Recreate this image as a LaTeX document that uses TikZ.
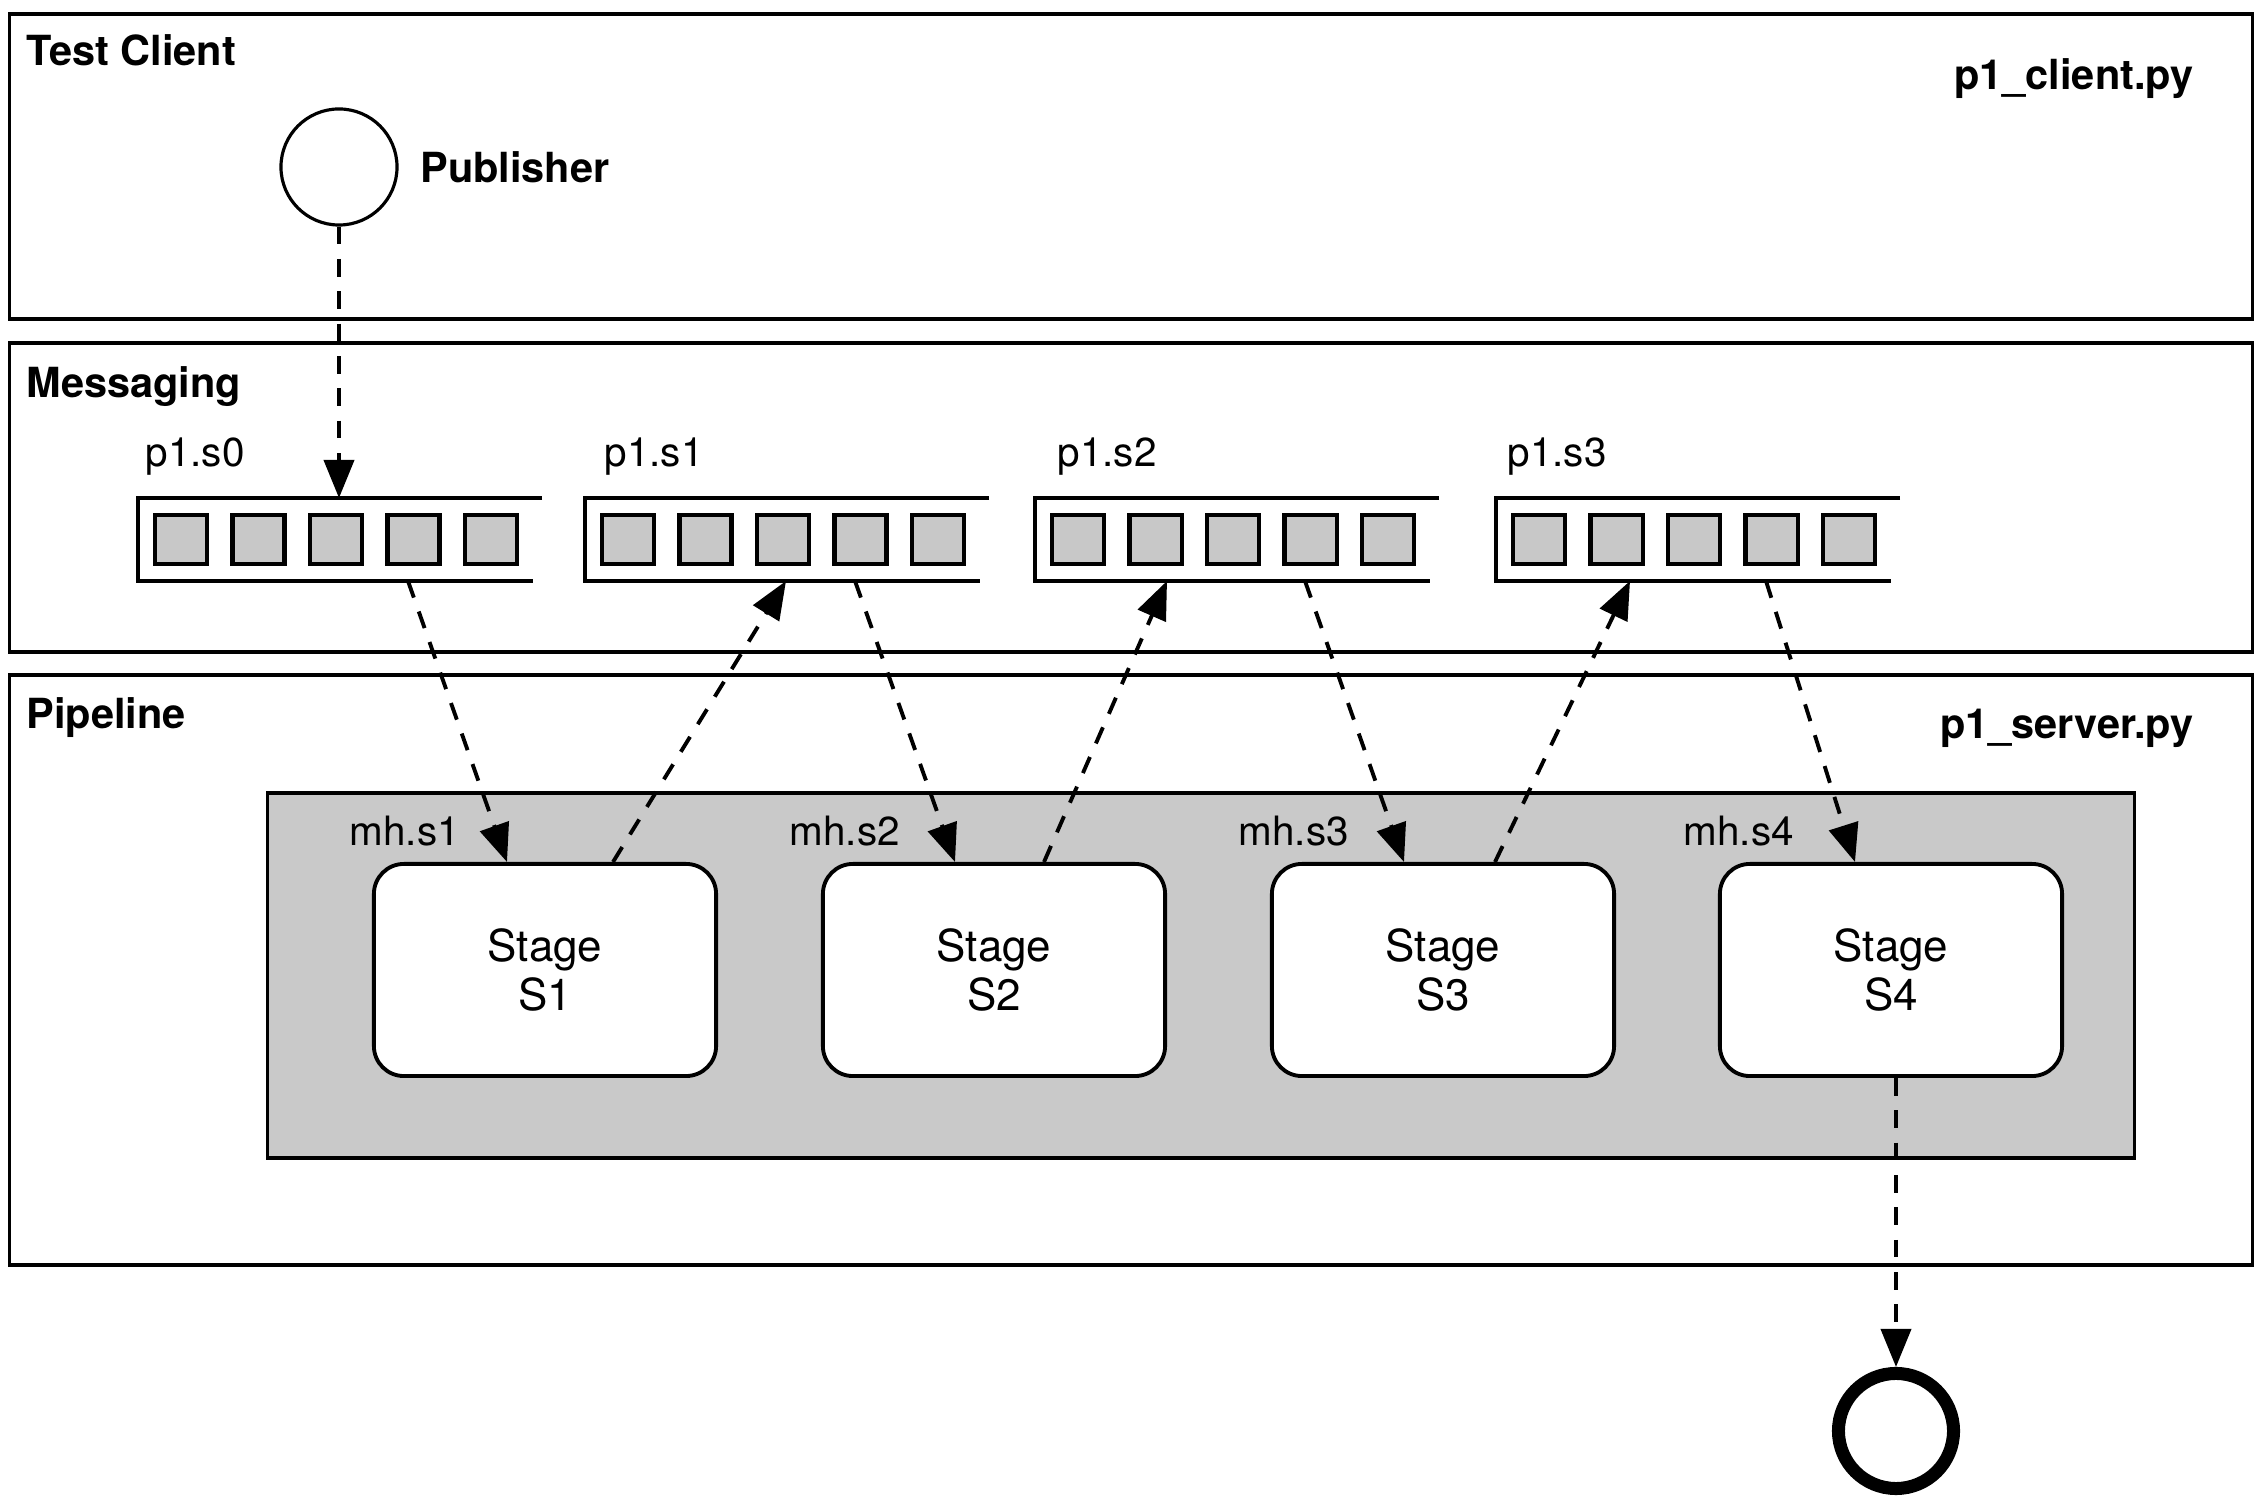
\documentclass[tikz,border=0pt]{standalone}
\usepackage{fontspec}
\setmainfont{TeX Gyre Heros}
\usepackage{tikz}
\usetikzlibrary{arrows.meta,positioning,calc}
\definecolor{cslot}{HTML}{C8C8C8}
\definecolor{cpipe}{HTML}{C9C9C9}
\tikzset{
  panel/.style={draw, line width=1pt, inner sep=0pt},
  ptitle/.style={font=\fontsize{11.8}{14}\selectfont\bfseries, inner sep=0pt},
  plabel/.style={font=\fontsize{11.5}{14}\selectfont, inner sep=0pt},
  slotbox/.style={draw, line width=1.15pt, fill=cslot, minimum width=0.52cm, minimum height=0.49cm, inner sep=0pt},
  qline/.style={line width=1.25pt, line join=miter},
  stagebox/.style={draw, line width=1.1pt, fill=white, rounded corners=0.3cm, minimum width=3.42cm, minimum height=2.12cm, align=center, font=\fontsize{12.5}{14.2}\selectfont},
  pubn/.style={circle, draw, line width=0.9pt, fill=white, minimum size=1.16cm, inner sep=0pt},
  endn/.style={circle, draw, line width=3.7pt, fill=white, minimum size=1.15cm, inner sep=0pt},
  flow/.style={-{Triangle[length=0.38cm, width=0.3cm]}, line width=1.1pt, dash pattern=on 5pt off 4.2pt},
}
\begin{document}
\begin{tikzpicture}[x=0.01cm, y=-0.01cm]
\useasboundingbox (0,0) rectangle (2262,1504);
% the three layers
\node[panel, minimum width=22.42cm, minimum height=3.05cm] (client) at (1131,166.5) {};
\node[panel, minimum width=22.42cm, minimum height=3.09cm] (msg) at (1131,497.5) {};
\node[panel, minimum width=22.42cm, minimum height=5.90cm] (pipe) at (1131,970) {};
\node[panel, fill=cpipe, minimum width=18.66cm, minimum height=3.65cm] (stagearea) at (1201,975.5) {};
\node[ptitle, anchor=base west] (tclient) at (26,66) {Test Client};
\node[ptitle, anchor=base west] (tmsg) at (26,398) {Messaging};
\node[ptitle, anchor=base west] (tpipe) at (26,729) {Pipeline};
\node[ptitle, anchor=base east] (fclient) at (2194,90) {p1\_client.py};
\node[ptitle, anchor=base east] (fserver) at (2194,739) {p1\_server.py};
% publisher
\node[pubn] (pub) at (339,167) {};
\node[ptitle, right=0.21cm of pub] (publbl) {Publisher};
% queues
\foreach \i/\x/\lx in {0/138/145,1/585/604,2/1035/1057,3/1496/1507} {
  \coordinate (q\i) at (\x,498);
  \draw[qline] ($(q\i)+(404,0)$) -- (q\i) -- ++(0,83) -- ++(395,0);
  \foreach \k in {0,...,4}
    \node[slotbox] (q\i-\k) at ($(q\i)+(43+77.5*\k,41.5)$) {};
  \node[plabel, anchor=base west] (ql\i) at (\lx,467) {p1.s\i};
}
% stages
\foreach \i/\x/\lx in {1/545/349,2/994/789,3/1443/1238,4/1891/1683} {
  \node[stagebox] (st\i) at (\x,970) {Stage\\S\i};
  \node[plabel, anchor=base west] (mh\i) at (\lx,846) {mh.s\i};
}
\node[endn] (done) at (1896,1431) {};
% message flow
\draw[flow] (pub) -- ($(q0)+(201,0)$);
\draw[flow] ($(q0)+(270,83)$) -- ($(st1.north)+(-38,0)$);
\draw[flow] ($(st1.north)+(68,0)$) -- ($(q1)+(201,83)$);
\draw[flow] ($(q1)+(270,83)$) -- ($(st2.north)+(-39,0)$);
\draw[flow] ($(st2.north)+(50,0)$) -- ($(q2)+(132,83)$);
\draw[flow] ($(q2)+(270,83)$) -- ($(st3.north)+(-39,0)$);
\draw[flow] ($(st3.north)+(52,0)$) -- ($(q3)+(134,83)$);
\draw[flow] ($(q3)+(270,83)$) -- ($(st4.north)+(-36,0)$);
\draw[flow] (st4.south -| done.north) -- (done.north);
\end{tikzpicture}
\end{document}
